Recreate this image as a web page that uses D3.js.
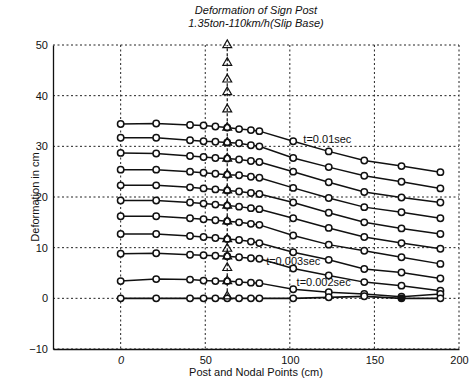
<!DOCTYPE html>
<html lang="en">
<head>
<meta charset="utf-8">
<title>Deformation of Sign Post</title>
<script src="https://cdn.jsdelivr.net/npm/d3@7"></script>
<style>
  body { margin: 0; background: #fff; }
  svg text { font-family: "Liberation Sans", Arial, sans-serif; fill: #111; }
  .grid line { stroke: #222; stroke-width: 1; stroke-dasharray: 2,2.5; }
</style>
</head>
<body>
<svg width="473" height="383"></svg>
<script>
// nodal points along post and beam (cm)
var nodes = [0, 21, 41, 49, 56, 63, 70, 77, 82, 102, 123, 144, 166, 189];

// deformation (cm) of each time step, top to bottom
var curves = [
  [34.4, 34.5, 34.2, 34.1, 33.9, 33.7, 33.4, 33.2, 33.0, 31.0, 29.0, 27.2, 26.1, 24.9],
  [31.7, 31.7, 31.2, 31.0, 30.9, 30.75, 30.6, 30.2, 30.0, 27.7, 25.9, 24.2, 23.0, 21.7],
  [28.7, 28.6, 28.1, 27.9, 27.7, 27.6, 27.4, 27.1, 26.9, 25.0, 22.9, 21.0, 19.9, 18.9],
  [25.4, 25.4, 25.0, 24.8, 24.6, 24.4, 24.3, 24.0, 23.8, 21.8, 19.8, 18.0, 17.0, 15.8],
  [22.3, 22.3, 21.9, 21.7, 21.5, 21.3, 21.1, 20.8, 20.6, 18.9, 16.9, 15.0, 13.8, 12.7],
  [19.3, 19.3, 18.9, 18.7, 18.5, 18.3, 18.1, 17.8, 17.6, 15.8, 13.9, 12.1, 10.9, 9.8],
  [16.2, 16.2, 15.8, 15.6, 15.4, 15.2, 15.0, 14.7, 14.5, 12.4, 10.6, 9.4, 8.1, 6.8],
  [12.7, 12.7, 12.3, 12.1, 11.9, 11.7, 11.5, 11.2, 10.9, 9.1, 7.6, 5.8, 5.1, 3.9],
  [8.8, 8.9, 8.6, 8.5, 8.4, 8.3, 8.1, 7.9, 7.8, 5.9, 4.5, 3.2, 2.5, 1.5],
  [3.4, 3.8, 3.7, 3.5, 3.4, 3.4, 3.2, 3.1, 3.0, 1.8, 1.2, 0.85, 0.3, 0.85],
  [0, 0, 0, 0, 0, 0, 0, 0, 0, 0, 0.2, 0.4, 0, 0]
];

// sign post (triangle markers)
var postX = 63;
var postY = [0.4, 3.4, 6.0, 8.3, 9.8, 11.7, 15.2, 18.3, 21.3, 24.4, 27.6, 30.75, 33.7, 37.3, 40.7, 43.2, 46.5, 50];

var notes = [
  {text: "t=0.01sec", x: 108, y: 31.5},
  {text: "t=0.003sec", x: 86, y: 7.4},
  {text: "t=0.002sec", x: 104, y: 3.2}
];

var xTicks = [0, 50, 100, 150, 200];
var yTicks = [-10, 0, 10, 20, 30, 40, 50];

var svg = d3.select("svg");
var mLeft = 53, mRight = 459, mTop = 45, mBottom = 349;

var x = d3.scaleLinear().domain([-40, 200]).range([mLeft, mRight]);
var y = d3.scaleLinear().domain([-10, 50]).range([mBottom, mTop]);

// grid
var grid = svg.append("g").attr("class", "grid");
grid.selectAll(".gx").data(xTicks).enter().append("line")
    .attr("x1", function(d) { return x(d); }).attr("x2", function(d) { return x(d); })
    .attr("y1", mTop).attr("y2", mBottom);
grid.selectAll(".gy").data(yTicks).enter().append("line")
    .attr("y1", function(d) { return y(d); }).attr("y2", function(d) { return y(d); })
    .attr("x1", mLeft).attr("x2", mRight);

// axes
var xAxis = svg.append("g").attr("transform", "translate(0," + mBottom + ")")
    .call(d3.axisBottom(x).tickValues(xTicks).tickSize(0).tickPadding(7));
var yAxis = svg.append("g").attr("transform", "translate(" + mLeft + ",0)")
    .call(d3.axisLeft(y).tickValues(yTicks).tickSize(0).tickPadding(5));
[xAxis, yAxis].forEach(function(a) {
  a.select(".domain").attr("stroke", "#111").attr("stroke-width", 1.3);
  a.selectAll("text").attr("font-size", 11).style("font-family", "Liberation Sans, Arial, sans-serif");
});
xAxis.selectAll("text").filter(function(d) { return d === 0; }).attr("font-style", "italic");

// post line
svg.append("line")
    .attr("x1", x(postX)).attr("x2", x(postX))
    .attr("y1", y(d3.min(postY))).attr("y2", y(d3.max(postY)))
    .attr("stroke", "#111").attr("stroke-width", 1.2).attr("stroke-dasharray", "3,2");

// curves
var line = d3.line()
    .x(function(d, i) { return x(nodes[i]); })
    .y(function(d) { return y(d); });

var gc = svg.append("g");
curves.forEach(function(c, k) {
  gc.append("path").attr("d", line(c))
      .attr("fill", "none").attr("stroke", "#111")
      .attr("stroke-width", k === curves.length - 1 ? 1.8 : 1.5);
  gc.selectAll(null).data(c).enter().append("circle")
      .attr("cx", function(d, i) { return x(nodes[i]); })
      .attr("cy", function(d) { return y(d); })
      .attr("r", 3.2)
      .attr("fill", function(d, i) { return (k === curves.length - 1 && i === 12) ? "#111" : "#fff"; })
      .attr("stroke", "#111").attr("stroke-width", 1.5);
});

// triangles
var tri = d3.symbol().type(d3.symbolTriangle).size(34);
svg.append("g").selectAll("path").data(postY).enter().append("path")
    .attr("d", tri)
    .attr("transform", function(d) { return "translate(" + x(postX) + "," + y(d) + ")"; })
    .attr("fill", "none").attr("stroke", "#111").attr("stroke-width", 1.2);

// notes
svg.append("g").selectAll("text").data(notes).enter().append("text")
    .attr("x", function(d) { return x(d.x); })
    .attr("y", function(d) { return y(d.y); })
    .attr("dy", "0.35em")
    .attr("font-size", 11)
    .text(function(d) { return d.text; });

// titles
svg.append("text").attr("x", (mLeft + mRight) / 2).attr("y", 14)
    .attr("text-anchor", "middle").attr("font-size", 11).attr("font-style", "italic")
    .text("Deformation of Sign Post");
svg.append("text").attr("x", (mLeft + mRight) / 2).attr("y", 27)
    .attr("text-anchor", "middle").attr("font-size", 11).attr("font-style", "italic")
    .text("1.35ton-110km/h(Slip Base)");
svg.append("text").attr("x", (mLeft + mRight) / 2).attr("y", 376)
    .attr("text-anchor", "middle").attr("font-size", 11)
    .text("Post and Nodal Points (cm)");
svg.append("text")
    .attr("transform", "translate(39," + ((mTop + mBottom) / 2) + ") rotate(-90)")
    .attr("text-anchor", "middle").attr("font-size", 11)
    .text("Deformation in cm");
</script>
</body>
</html>
